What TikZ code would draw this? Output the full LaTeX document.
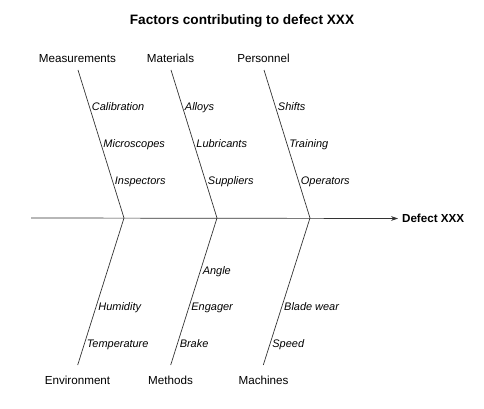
\documentclass[tikz,border=0pt]{standalone}
\usepackage{fontspec}
\setmainfont{Liberation Sans}
\usetikzlibrary{arrows.meta}
\begin{document}
\begin{tikzpicture}[x=0.858pt,y=-0.858pt,
  bone/.style={draw=black!80,line width=0.6pt},
  cat/.style={font=\fontsize{10}{12}\selectfont,anchor=base,inner sep=0pt},
  item/.style={font=\fontsize{9.4}{11}\selectfont\itshape,anchor=west,inner sep=1.8pt,text height=6.8pt,text depth=0.3pt},
  titlestyle/.style={font=\fontsize{11.7}{14}\selectfont\bfseries,anchor=base,inner sep=0pt},
  effect/.style={font=\fontsize{10}{12}\selectfont\bfseries,anchor=west,inner sep=3.3pt}]
\useasboundingbox (0,0) rectangle (484,409);

\node[titlestyle] (title) at (242,24.8) {Factors contributing to defect XXX};

% spine
\coordinate (tail) at (31,218);
\node[effect] (defect) at (398,218.5) {Defect XXX};
\draw[bone,-{Stealth[length=6pt,width=4pt]}] (tail) -- (defect.west);

% category labels
\node[cat] (meas) at (77.5,62.5) {Measurements};
\node[cat] (mat)  at (170.5,62.5) {Materials};
\node[cat] (pers) at (263.5,62.5) {Personnel};
\node[cat] (env)  at (77.5,384) {Environment};
\node[cat] (meth) at (170.5,384) {Methods};
\node[cat] (mach) at (263.5,384) {Machines};

% bone ends
\coordinate (measT) at (78,70);
\coordinate (matT)  at (171,70);
\coordinate (persT) at (264,70);
\coordinate (j1) at (124,218);
\coordinate (j2) at (217,218);
\coordinate (j3) at (310,218);
\coordinate (envB)  at (77.7,365);
\coordinate (methB) at (170.7,365);
\coordinate (machB) at (263.3,365);

% top bones
\draw[bone] (measT) -- (j1)
  node[item,pos=0.25] {Calibration}
  node[item,pos=0.5] {Microscopes}
  node[item,pos=0.75] {Inspectors};
\draw[bone] (matT) -- (j2)
  node[item,pos=0.25] {Alloys}
  node[item,pos=0.5] {Lubricants}
  node[item,pos=0.75] {Suppliers};
\draw[bone] (persT) -- (j3)
  node[item,pos=0.25] {Shifts}
  node[item,pos=0.5] {Training}
  node[item,pos=0.75] {Operators};

% bottom bones
\draw[bone] (j1) -- (envB)
  node[item,pos=0.605] {Humidity}
  node[item,pos=0.857] {Temperature};
\draw[bone] (j2) -- (methB)
  node[item,pos=0.36] {Angle}
  node[item,pos=0.605] {Engager}
  node[item,pos=0.857] {Brake};
\draw[bone] (j3) -- (machB)
  node[item,pos=0.605] {Blade wear}
  node[item,pos=0.857] {Speed};
\end{tikzpicture}
\end{document}
